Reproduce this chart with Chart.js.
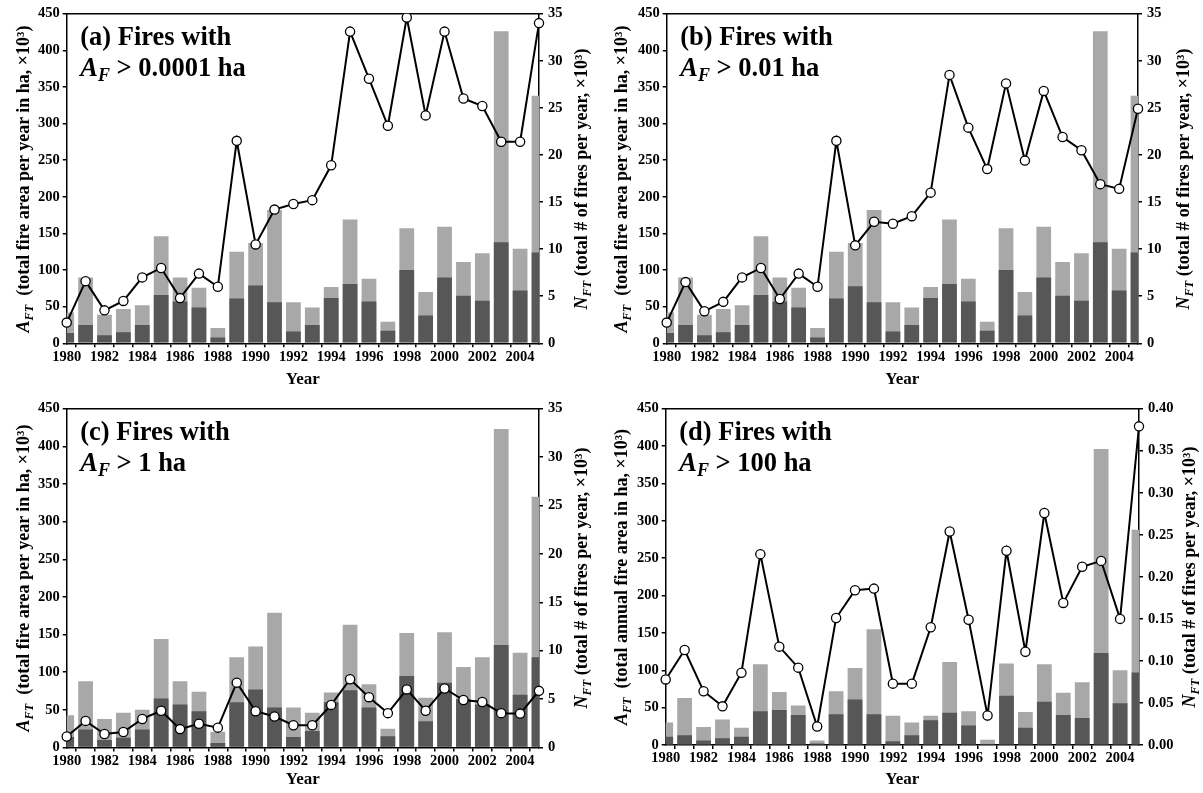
<!DOCTYPE html>
<html><head><meta charset="utf-8">
<script src="https://cdn.jsdelivr.net/npm/chart.js@4.4.1/dist/chart.umd.min.js"></script>
<style>
body{margin:0;background:#fff;width:1203px;height:793px;overflow:hidden;position:relative;font-family:'Liberation Serif','Times New Roman',serif;}
canvas{position:absolute;}
.lab{position:absolute;font-weight:bold;color:#000;white-space:nowrap;line-height:1;}
.panel{font-size:26.5px;}
.ax{font-size:18px;transform:translate(-50%,-50%) rotate(-90deg);transform-origin:center center;}
sub{font-size:0.68em;vertical-align:-0.3em;line-height:0;}
i{font-style:italic;}
</style></head><body>
<canvas id="ca" width="601" height="395" style="left:0;top:0"></canvas>
<canvas id="cb" width="603" height="395" style="left:600px;top:0"></canvas>
<canvas id="cc" width="601" height="398" style="left:0;top:395px"></canvas>
<canvas id="cd" width="603" height="398" style="left:600px;top:395px"></canvas>
<script>
const years = ['1980','1981','1982','1983','1984','1985','1986','1987','1988','1989','1990','1991','1992','1993','1994','1995','1996','1997','1998','1999','2000','2001','2002','2003','2004','2005'];
const leftTicks = {min:0, max:450, step:50};

// (a) fires > 0.0001 ha
const areaTotalA = [42, 90, 39, 47, 52, 146, 90, 76, 21, 125, 137, 182, 56, 49, 77, 169, 88, 29.5, 157, 70, 159, 111, 123, 426, 129, 338];
const areaPartA  = [14, 25, 11, 15, 25, 66, 57, 49, 8, 61, 79, 56, 16, 25, 62, 81, 57, 17, 100, 38, 90, 65, 58, 138, 72, 124];
const countA     = [2.2, 6.6, 3.5, 4.5, 7.0, 8.0, 4.8, 7.4, 6.0, 21.5, 10.5, 14.2, 14.8, 15.2, 18.9, 33.1, 28.1, 23.1, 34.6, 24.2, 33.1, 26.0, 25.2, 21.4, 21.4, 34.0];
// (b) fires > 0.01 ha
const areaTotalB = [42, 90, 39, 47, 52, 146, 90, 76, 21, 125, 137, 182, 56, 49, 77, 169, 88, 29.5, 157, 70, 159, 111, 123, 426, 129, 338];
const areaPartB  = [14, 25, 11, 15, 25, 66, 57, 49, 8, 61, 78, 56, 16, 25, 62, 81, 57, 17, 100, 38, 90, 65, 58, 138, 72, 124];
const countB     = [2.2, 6.5, 3.4, 4.4, 7.0, 8.0, 4.7, 7.4, 6.0, 21.5, 10.4, 12.9, 12.7, 13.5, 16.0, 28.5, 22.9, 18.5, 27.6, 19.4, 26.8, 21.9, 20.5, 16.9, 16.4, 24.9];
// (c) fires > 1 ha
const areaTotalC = [43, 88, 38, 46, 50, 144, 88, 74, 21, 120, 134, 179, 53, 46, 73, 163, 84, 25, 152, 66, 153, 107, 120, 423, 126, 333];
const areaPartC  = [14, 24, 10, 13, 24, 65, 57, 48, 6, 60, 77, 53, 14, 22, 60, 76, 53, 15, 95, 35, 86, 64, 57, 136, 70, 120];
const countC     = [1.13, 2.75, 1.4, 1.6, 2.95, 3.8, 1.9, 2.45, 2.05, 6.7, 3.75, 3.2, 2.3, 2.3, 4.4, 7.05, 5.2, 3.55, 6.0, 3.8, 6.1, 4.9, 4.7, 3.55, 3.5, 5.85];
// (d) fires > 100 ha
const areaTotalD = [30, 63, 24, 34, 23, 108, 71, 53, 6, 72, 103, 155, 39, 30, 39, 111, 45, 7, 109, 44, 108, 70, 84, 396, 100, 288];
const areaPartD  = [11, 13, 6, 9, 11, 45, 47, 40, 2, 41, 61, 41, 5, 13, 33, 43, 26, 1.5, 66, 23, 58, 40, 36, 123, 56, 97];
const countD     = [0.078, 0.113, 0.064, 0.046, 0.086, 0.227, 0.117, 0.092, 0.022, 0.151, 0.184, 0.186, 0.073, 0.073, 0.140, 0.254, 0.149, 0.035, 0.231, 0.111, 0.276, 0.169, 0.212, 0.219, 0.150, 0.379];

Chart.defaults.color = '#000';
Chart.defaults.font.family = "'Liberation Serif','Times New Roman',serif";

const frameTop = {
  id: 'frameTop',
  beforeDatasetsDraw(chart) {
    const {ctx, chartArea: a} = chart;
    ctx.save();
    ctx.strokeStyle = '#000';
    ctx.lineWidth = 1.5;
    ctx.beginPath();
    ctx.moveTo(a.left - 0.75, a.top);
    ctx.lineTo(a.right + 0.75, a.top);
    ctx.stroke();
    ctx.restore();
  }
};

const tickFont = {size: 14.5, weight: 'bold'};

function makePanel(id, total, part, count, rightMax, rightStep, rightDec, g) {
  return new Chart(document.getElementById(id), {
    type: 'bar',
    plugins: [frameTop],
    data: {
      labels: years,
      datasets: [
        {type: 'line', data: count, yAxisID: 'y2', borderColor: '#000', borderWidth: 2,
         pointRadius: 4.6, pointBackgroundColor: '#fff', pointBorderColor: '#000', pointBorderWidth: 1.3,
         tension: 0, order: 0},
        {type: 'bar', data: part, yAxisID: 'y', backgroundColor: '#575757', grouped: false, clip: 0,
         categoryPercentage: 0.78, barPercentage: 1, order: 1},
        {type: 'bar', data: total, yAxisID: 'y', backgroundColor: '#a8a8a8', grouped: false, clip: 0,
         categoryPercentage: 0.78, barPercentage: 1, order: 2}
      ]
    },
    options: {
      responsive: false,
      animation: false,
      layout: {padding: {top: 13.3, left: 0, right: 0, bottom: 0}},
      plugins: {legend: {display: false}, tooltip: {enabled: false}},
      scales: {
        x: {
          type: 'category', offset: false,
          grid: {display: true, drawOnChartArea: false, drawTicks: true, tickLength: 4, color: '#000', lineWidth: 1.5},
          border: {display: true, color: '#000', width: 1.5},
          ticks: {autoSkip: false, maxRotation: 0, minRotation: 0, padding: 1, font: tickFont,
                  callback: (v, i) => (i % 2 === 0 ? years[i] : '')},
          title: {display: true, text: 'Year', font: {size: 17, weight: 'bold'}, padding: {top: 0, bottom: g.yearPad}},
          afterFit: s => { s.height = g.xH; }
        },
        y: {
          position: 'left', min: leftTicks.min, max: leftTicks.max,
          grid: {display: true, drawOnChartArea: false, tickLength: 4, color: '#000', lineWidth: 1.5},
          border: {display: true, color: '#000', width: 1.5},
          ticks: {stepSize: leftTicks.step, padding: 3, font: tickFont},
          afterFit: s => { s.width = g.yW; }
        },
        y2: {
          position: 'right', min: 0, max: rightMax,
          grid: {display: true, drawOnChartArea: false, tickLength: 4, color: '#000', lineWidth: 1.5},
          border: {display: true, color: '#000', width: 1.5},
          ticks: {stepSize: rightStep, padding: 5, font: tickFont,
                  callback: v => Number(v).toFixed(rightDec)},
          afterFit: s => { s.width = g.y2W; }
        }
      }
    }
  });
}

function addLabel(html, cls, left, top) {
  const d = document.createElement('div');
  d.className = 'lab ' + cls;
  d.innerHTML = html;
  d.style.left = left + 'px';
  d.style.top = top + 'px';
  document.body.appendChild(d);
  return d;
}

function decorate(chart, ox, oy, letter, thr, leftTitle, lOff, rOff) {
  const a = chart.chartArea;
  const L = ox + a.left, R = ox + a.right, T = oy + a.top, B = oy + a.bottom;
  const cy = (T + B) / 2;
  const asc = 0.8375 * 26.5;
  addLabel('(' + letter + ') Fires with', 'panel', L + 13.5, T + 31.7 - asc);
  addLabel('<i>A</i><sub><i>F</i></sub> &gt; ' + thr + ' ha', 'panel', L + 13.5, T + 62.7 - asc);
  addLabel('<i>A</i><sub><i>FT</i></sub>&nbsp;&nbsp;' + leftTitle, 'ax', L - lOff, cy);
  addLabel('<i>N</i><sub><i>FT</i></sub> (total # of fires per year, ×10³)', 'ax', R + rOff, cy);
}

const chA = makePanel('ca', areaTotalA, areaPartA, countA, 35, 5, 0, {xH: 51.7, yW: 66.7, y2W: 62, yearPad: 5.5});
const chB = makePanel('cb', areaTotalB, areaPartB, countB, 35, 5, 0, {xH: 51.7, yW: 66.7, y2W: 65, yearPad: 5.5});
const chC = makePanel('cc', areaTotalC, areaPartC, countC, 35, 5, 0, {xH: 45.5, yW: 66.7, y2W: 62, yearPad: 3});
const chD = makePanel('cd', areaTotalD, areaPartD, countD, 0.40, 0.05, 2, {xH: 48, yW: 65.7, y2W: 64, yearPad: 3});

decorate(chA, 0, 0, 'a', '0.0001', '(total fire area per year in ha, ×10³)', 44, 42);
decorate(chB, 600, 0, 'b', '0.01', '(total fire area per year in ha, ×10³)', 46, 45);
decorate(chC, 0, 395, 'c', '1', '(total fire area per year in ha, ×10³)', 44, 42);
decorate(chD, 600, 395, 'd', '100', '(total annual fire area in ha, ×10³)', 45, 50);
</script>
</body></html>
